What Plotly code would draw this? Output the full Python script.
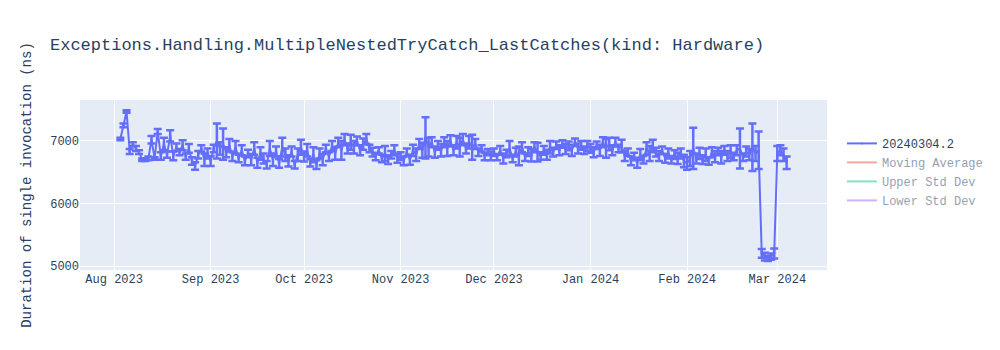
import pandas as pd
import plotly.graph_objects as go

series_name = "20240304.2"
title_text = "Exceptions.Handling.MultipleNestedTryCatch_LastCatches(kind: Hardware)"
y_title = "Duration of single invocation (ns)"

start_date = "2023-08-03"

values_aug = [7030, 7250, 7470, 6830, 6950, 6880, 6820, 6700, 6700, 6720, 7020, 6720, 7150, 6760,
              6950, 6780, 7080, 6760, 6900, 6820, 6930, 6750, 6880, 6680, 6600, 6780, 6880, 6700, 6800]
errors_aug = [20, 30, 20, 40, 30, 40, 30, 20, 20, 30, 60, 20, 40, 60,
              100, 50, 90, 70, 60, 50, 80, 50, 70, 60, 60, 60, 50, 100, 80]

values_sep = [6680, 6880, 7000, 6880, 6950, 6820, 6930, 6750, 6900, 6720, 6850, 6680, 6800, 6700, 6880,
              6650, 6800, 6720, 6620, 6880, 6700, 6830, 6640, 6900, 6780, 6680, 6830, 6620, 6780, 6900]
errors_sep = [80, 60, 280, 100, 250, 80, 100, 70, 100, 60, 80, 70, 60, 90, 100,
              80, 100, 80, 60, 120, 100, 80, 70, 150, 100, 90, 80, 60, 100, 120]

values_oct = [6750, 6850, 6650, 6780, 6620, 6800, 6700, 6880, 6750, 6920, 6800, 6980, 6850, 7020, 6880, 6980,
              6900, 7000, 6850, 6950, 7030, 6880, 6820, 6750, 6850, 6720, 6800, 6700, 6780, 6850, 6720]
errors_oct = [80, 100, 60, 120, 70, 80, 90, 60, 70, 80, 100, 70, 150, 90, 80, 120,
              100, 70, 80, 90, 80, 60, 70, 60, 50, 60, 120, 70, 60, 80, 70]

values_nov = [6760, 6680, 6820, 6700, 6850, 6780, 6950, 6850, 7050, 6900, 6980, 6820, 6930, 6850, 6980,
              6880, 7000, 6850, 6980, 6900, 7020, 6880, 6980, 6900, 6950, 6820, 6880, 6750, 6820, 6760]
errors_nov = [60, 70, 60, 80, 90, 100, 80, 120, 330, 150, 80, 90, 70, 100, 80,
              120, 90, 80, 100, 150, 90, 80, 100, 200, 80, 60, 50, 60, 50, 70]

values_dec = [6820, 6740, 6850, 6720, 6800, 6880, 6720, 6820, 6760, 6900, 6740, 6830, 6770, 6900, 6820, 6760,
              6850, 6780, 6900, 6820, 6930, 6850, 6950, 6870, 6920, 6850, 6980, 6880, 6930, 6850, 6920]
errors_dec = [60, 50, 70, 80, 60, 120, 60, 70, 150, 80, 60, 70, 100, 80, 150, 60,
              70, 80, 100, 70, 60, 80, 60, 80, 70, 90, 60, 80, 70, 60, 80]

values_jan = [6880, 6820, 6930, 6850, 6980, 6880, 6950, 6850, 6980, 6880, 6920, 6760, 6820, 6680, 6750, 6650,
              6780, 6700, 6880, 6800, 6920, 6820, 6760, 6850, 6720, 6800, 6700, 6780, 6720, 6800, 6680]
errors_jan = [70, 80, 60, 90, 80, 150, 100, 80, 70, 60, 100, 80, 60, 70, 60, 80,
              90, 60, 100, 120, 100, 70, 80, 60, 70, 80, 60, 70, 90, 80, 100]

values_feb = [6640, 6720, 6880, 6720, 6800, 6700, 6780, 6680, 6820, 6750, 6830, 6740, 6850, 6760, 6830,
              6750, 6850, 6880, 6740, 6830, 6780, 6900, 6800, 6850, 5200, 5150, 5120, 5150, 5200]
errors_feb = [100, 120, 330, 80, 90, 70, 100, 60, 80, 90, 60, 100, 70, 80, 100,
              60, 80, 320, 60, 80, 90, 380, 120, 300, 70, 60, 40, 50, 80]

values_mar = [6800, 6850, 6780, 6650]
errors_mar = [120, 80, 100, 100]

values = values_aug + values_sep + values_oct + values_nov + values_dec + values_jan + values_feb + values_mar
errors = errors_aug + errors_sep + errors_oct + errors_nov + errors_dec + errors_jan + errors_feb + errors_mar
dates = pd.date_range(start_date, periods=len(values), freq="D")

s = pd.Series(values, index=dates)
moving_avg = s.rolling(7, min_periods=1).mean()
std = s.rolling(7, min_periods=1).std().fillna(0)
upper = moving_avg + 2 * std
lower = moving_avg - 2 * std

font_family = "Liberation Mono, Courier New, monospace"

fig = go.Figure()
fig.add_trace(go.Scatter(
    x=dates, y=values, name=series_name, mode="lines+markers",
    line=dict(color="#636efa", width=2),
    marker=dict(size=2, color="#636efa"),
    error_y=dict(type="data", array=errors, visible=True, color="#636efa", thickness=2.5, width=4),
))
fig.add_trace(go.Scatter(x=dates, y=moving_avg, name="Moving Average", mode="lines",
                         line=dict(color="#EF553B"), visible="legendonly"))
fig.add_trace(go.Scatter(x=dates, y=upper, name="Upper Std Dev", mode="lines",
                         line=dict(color="#00cc96"), visible="legendonly"))
fig.add_trace(go.Scatter(x=dates, y=lower, name="Lower Std Dev", mode="lines",
                         line=dict(color="#ab63fa"), visible="legendonly"))

fig.update_layout(
    width=1000, height=350,
    template="plotly",
    font=dict(family=font_family, size=12, color="#2a3f5f"),
    title=dict(text=title_text, x=0.05, font=dict(size=17)),
    yaxis=dict(title=dict(text=y_title, font=dict(size=14))),
    legend=dict(y=0.83),
    margin=dict(l=80, r=80, t=100, b=80),
)

fig.write_html("out.html")
